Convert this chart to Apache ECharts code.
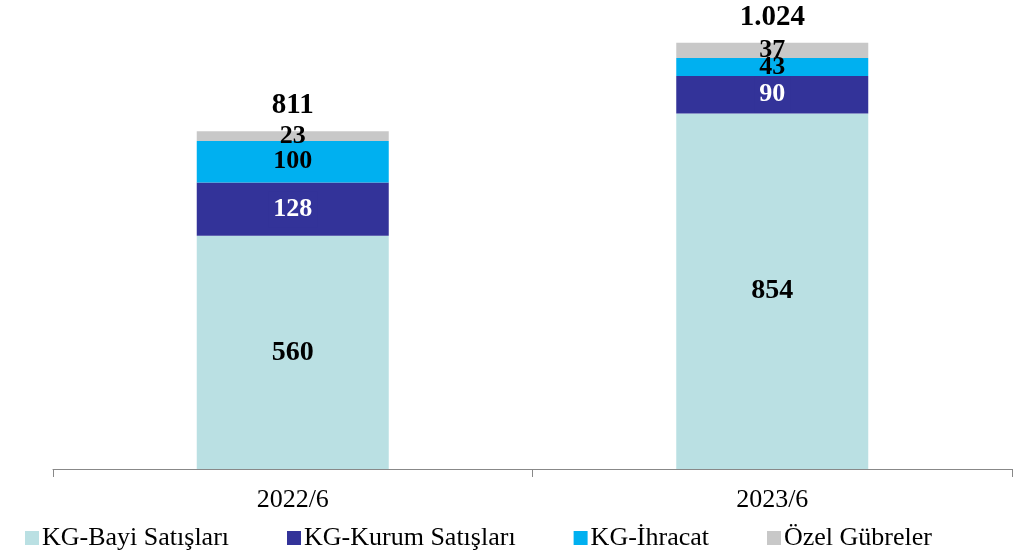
<!DOCTYPE html>
<html>
<head>
<meta charset="utf-8">
<script src="https://cdn.jsdelivr.net/npm/echarts@6/dist/echarts.min.js"></script>
<style>
html,body{margin:0;padding:0;background:#fff;}
#c{width:1018px;height:556px;}
</style>
</head>
<body>
<div id="c"></div>
<script>
var categories = ['2022/6', '2023/6'];
var seriesNames = ['KG-Bayi Satışları', 'KG-Kurum Satışları', 'KG-İhracat', 'Özel Gübreler'];
var bayi = [560, 854];
var kurum = [128, 90];
var ihracat = [100, 43];
var ozel = [23, 37];
var totals = [811, 1024];

var colors = ['#BAE0E3', '#333399', '#00B0F0', '#C8C8C8'];
var labelColors = ['#000', '#fff', '#000', '#000'];
var labelSizes = [28, 26, 26, 26];
var FONT = '"Liberation Serif", "Times New Roman", serif';

function fmt(v) {
  return String(v).replace(/\B(?=(\d{3})+(?!\d))/g, '.');
}

var dataSets = [bayi, kurum, ihracat, ozel];
var series = dataSets.map(function (d, i) {
  var lbl = {
    show: true,
    position: 'inside',
    color: labelColors[i],
    fontFamily: FONT,
    fontWeight: 'bold',
    fontSize: labelSizes[i]
  };
  if (i === 1) {
    lbl.backgroundColor = '#333399';
    lbl.padding = [5, 5];
  }
  return {
    name: seriesNames[i],
    type: 'bar',
    stack: 'total',
    barWidth: 192,
    itemStyle: { color: colors[i] },
    label: lbl,
    data: d
  };
});
series.push({
  name: 'Toplam',
  type: 'bar',
  stack: 'total',
  barWidth: 192,
  silent: true,
  itemStyle: { color: 'transparent' },
  label: {
    show: true,
    position: 'top',
    distance: 11,
    color: '#000',
    fontFamily: FONT,
    fontWeight: 'bold',
    fontSize: 29,
    formatter: function (p) { return fmt(totals[p.dataIndex]); }
  },
  data: totals.map(function () { return 0; })
});

var chart = echarts.init(document.getElementById('c'), null, { renderer: 'canvas' });
chart.setOption({
  animation: false,
  backgroundColor: '#fff',
  grid: { left: 53, right: 6, top: 11, bottom: 87, containLabel: false },
  legend: {
    data: seriesNames,
    left: 25,
    top: 525,
    padding: 0,
    itemWidth: 14,
    itemHeight: 14,
    itemGap: 58,
    icon: 'rect',
    textStyle: { fontFamily: FONT, fontSize: 26, color: '#000', padding: [0, 0, 0, -2] }
  },
  xAxis: {
    type: 'category',
    data: categories,
    axisLine: { lineStyle: { color: '#888', width: 1 } },
    axisTick: { show: true, length: 8, lineStyle: { color: '#888' } },
    axisLabel: { margin: 18, fontFamily: FONT, fontSize: 26, color: '#000' }
  },
  yAxis: {
    type: 'value',
    min: 0,
    max: 1100,
    show: false,
    splitLine: { show: false }
  },
  series: series
});
</script>
</body>
</html>
